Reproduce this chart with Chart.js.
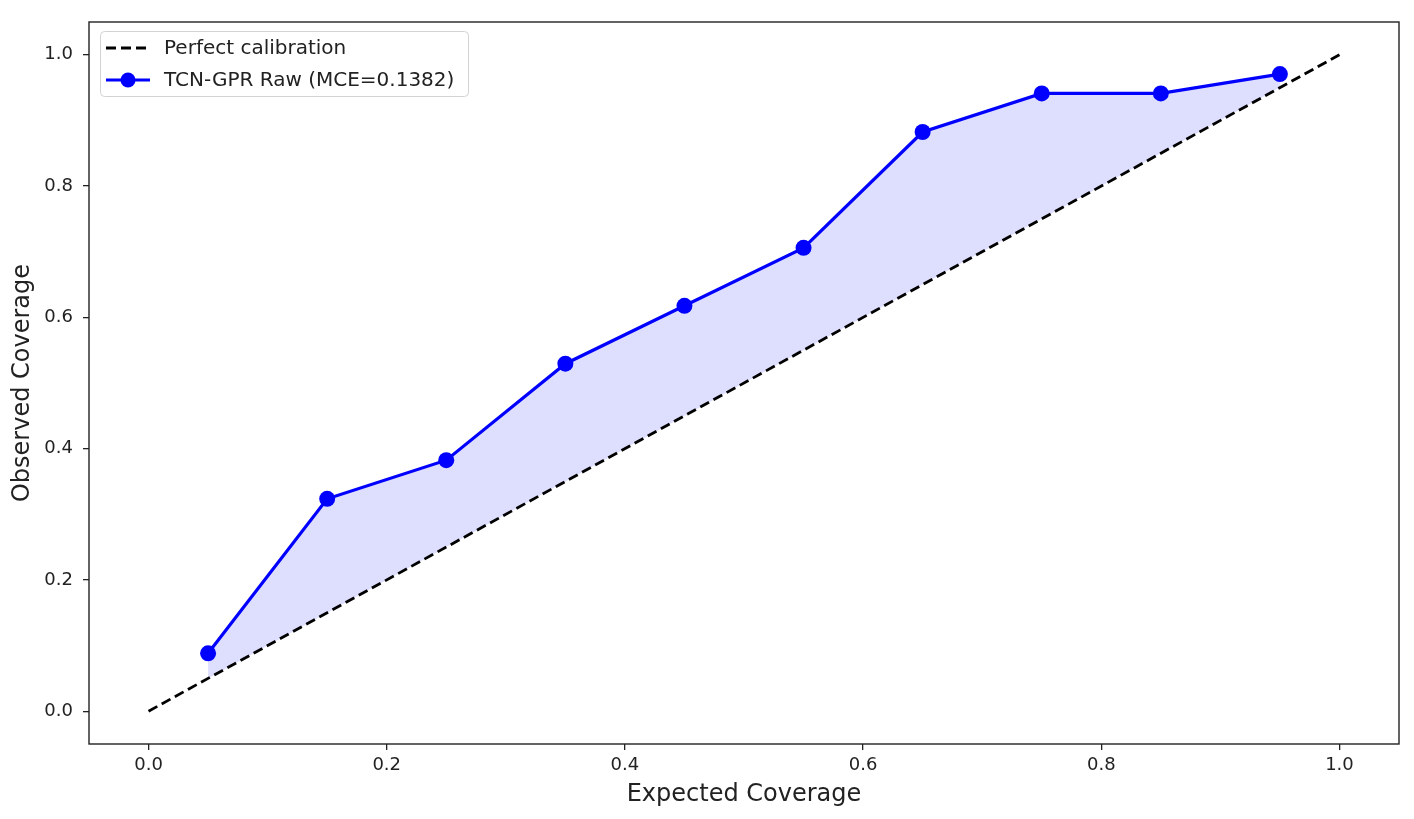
<!DOCTYPE html>
<html>
<head>
<meta charset="utf-8">
<title>Calibration</title>
<script src="https://cdn.jsdelivr.net/npm/chart.js@4.4.1/dist/chart.umd.min.js"></script>
<style>
  html, body { margin: 0; padding: 0; background: #fff; }
  #wrap { width: 1414px; height: 819px; position: relative; }
</style>
</head>
<body>
<div id="wrap"><canvas id="calChart"></canvas></div>
<script>
// values
const expectedCoverage = [0.05, 0.15, 0.25, 0.35, 0.45, 0.55, 0.65, 0.75, 0.85, 0.95];
const observedCoverage = [0.0882, 0.3235, 0.3824, 0.5294, 0.6176, 0.7059, 0.8824, 0.9412, 0.9412, 0.9706];
const perfectX = [0, 1];
const perfectY = [0, 1];
const xTicks = [0.0, 0.2, 0.4, 0.6, 0.8, 1.0];
const yTicks = [0.0, 0.2, 0.4, 0.6, 0.8, 1.0];
const perfectLabel = 'Perfect calibration';
const rawLabel = 'TCN-GPR Raw (MCE=0.1382)';

const FONT = "'DejaVu Sans', sans-serif";
const INK = '#222';

const ctx = document.getElementById('calChart').getContext('2d');

function toPoints(xs, ys) {
    return xs.map((x, i) => ({ x: x, y: ys[i] }));
}

// frame around the plot area (matplotlib spines)
const framePlugin = {
    id: 'frame',
    afterDatasetsDraw(chart) {
        const a = chart.chartArea;
        const c = chart.ctx;
        c.save();
        c.strokeStyle = INK;
        c.lineWidth = 1.4;
        c.strokeRect(a.left, a.top, a.right - a.left, a.bottom - a.top);
        c.restore();
    }
};

// matplotlib style legend, upper left
const mplLegend = {
    id: 'mplLegend',
    afterDraw(chart) {
        const c = chart.ctx;
        const ds = chart.data.datasets;
        c.save();
        c.beginPath();
        c.roundRect(100.5, 31.5, 368, 65, 4);
        c.fillStyle = 'rgba(255,255,255,0.8)';
        c.fill();
        c.strokeStyle = '#d3d3d3';
        c.lineWidth = 1;
        c.stroke();

        // dashed entry
        c.beginPath();
        c.setLineDash([10, 5]);
        c.strokeStyle = ds[0].borderColor;
        c.lineWidth = ds[0].borderWidth;
        c.moveTo(106, 48);
        c.lineTo(149, 48);
        c.stroke();
        c.setLineDash([]);

        // line + marker entry
        c.beginPath();
        c.strokeStyle = ds[1].borderColor;
        c.lineWidth = ds[1].borderWidth;
        c.moveTo(106, 80);
        c.lineTo(150, 80);
        c.stroke();
        c.beginPath();
        c.fillStyle = ds[1].pointBackgroundColor;
        c.arc(128, 80, 7.5, 0, Math.PI * 2);
        c.fill();

        c.fillStyle = INK;
        c.font = '20px ' + FONT;
        c.textBaseline = 'middle';
        c.textAlign = 'left';
        c.fillText(ds[0].label, 164, 49);
        c.fillText(ds[1].label, 164, 81);
        c.restore();
    }
};

const calChart = new Chart(ctx, {
    type: 'line',
    data: {
        datasets: [
            {
                label: perfectLabel,
                data: toPoints(perfectX, perfectY),
                borderColor: '#000',
                borderWidth: 2.8,
                borderDash: [10, 5],
                pointRadius: 0,
                fill: false
            },
            {
                label: rawLabel,
                data: toPoints(expectedCoverage, observedCoverage),
                borderColor: '#0000ff',
                borderWidth: 3.2,
                pointRadius: 8,
                pointBackgroundColor: '#0000ff',
                pointBorderWidth: 0,
                backgroundColor: 'rgba(0,0,255,0.13)',
                fill: { target: 0, above: 'rgba(0,0,255,0.13)', below: 'rgba(0,0,255,0.13)' }
            }
        ]
    },
    options: {
        responsive: true,
        maintainAspectRatio: false,
        animation: false,
        layout: { padding: { top: 22, right: 15, left: 0, bottom: 0 } },
        plugins: {
            legend: { display: false },
            tooltip: { enabled: false }
        },
        scales: {
            x: {
                type: 'linear',
                min: -0.05,
                max: 1.05,
                afterBuildTicks: s => { s.ticks = xTicks.map(v => ({ value: v })); },
                afterFit: s => { s.height = 75; },
                ticks: {
                    color: INK,
                    font: { family: FONT, size: 18 },
                    padding: 5,
                    maxRotation: 0,
                    callback: v => Number(v).toFixed(1)
                },
                grid: { drawOnChartArea: false, drawTicks: true, tickLength: 6, color: INK, lineWidth: 1.3 },
                border: { display: false },
                title: {
                    display: true,
                    text: 'Expected Coverage',
                    color: INK,
                    font: { family: FONT, size: 24 },
                    padding: { top: 0, bottom: 10 }
                }
            },
            y: {
                type: 'linear',
                min: -0.05,
                max: 1.05,
                afterBuildTicks: s => { s.ticks = yTicks.map(v => ({ value: v })); },
                afterFit: s => { s.width = 89; },
                ticks: {
                    color: INK,
                    font: { family: FONT, size: 18 },
                    padding: 10,
                    callback: v => Number(v).toFixed(1)
                },
                grid: { drawOnChartArea: false, drawTicks: true, tickLength: 6, color: INK, lineWidth: 1.3 },
                border: { display: false },
                title: {
                    display: true,
                    text: 'Observed Coverage',
                    color: INK,
                    font: { family: FONT, size: 24 },
                    padding: { top: 8, bottom: 0 }
                }
            }
        }
    },
    plugins: [framePlugin, mplLegend]
});
</script>
</body>
</html>
